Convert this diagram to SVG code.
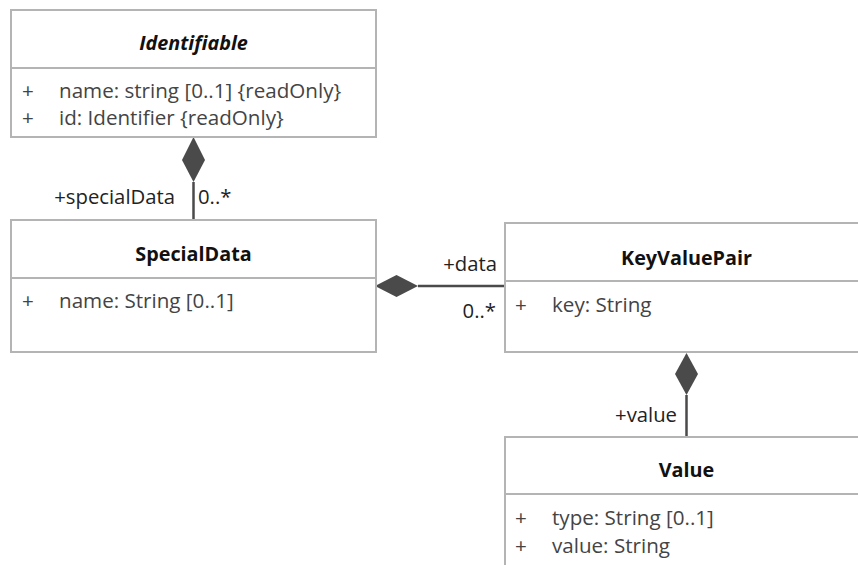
<svg xmlns="http://www.w3.org/2000/svg" width="858" height="565" viewBox="0 0 858 565">
<style>
.box{fill:#fff;stroke:#b4b4b4;stroke-width:2}
.div{stroke:#b4b4b4;stroke-width:2}
.t{font-family:"Open Sans","Liberation Sans",sans-serif;font-size:19.8px;fill:#111;font-weight:bold;text-anchor:middle}
.a{font-family:"Open Sans","Liberation Sans",sans-serif;font-size:20.6px;fill:#444}
.l{font-family:"Open Sans","Liberation Sans",sans-serif;font-size:20.3px;fill:#222}
.c{stroke:#4a4a4a;stroke-width:2.5;fill:none}
.d{fill:#4a4a4a}
</style>
<rect width="858" height="565" fill="#fff"/>
<g id="connectors">
<path class="d" d="M193.5,137 L205,160 L193.5,182 L182,160 Z"/>
<line class="c" x1="193.5" y1="182" x2="193.5" y2="220"/>
<path class="d" d="M375,286 L396.5,275 L418,286 L396.5,297 Z"/>
<line class="c" x1="418" y1="286" x2="505" y2="286"/>
<path class="d" d="M686.5,353 L698,374 L686.5,395 L675,374 Z"/>
<line class="c" x1="686.5" y1="395" x2="686.5" y2="437"/>
<text class="l" x="175" y="204" text-anchor="end">+specialData</text>
<text class="l" x="198" y="204">0..*</text>
<text class="l" x="497" y="271" text-anchor="end">+data</text>
<text class="l" x="496" y="318" text-anchor="end">0..*</text>
<text class="l" x="677" y="422" text-anchor="end">+value</text>
</g>
<g id="Identifiable">
<rect class="box" x="11" y="10" width="365" height="127"/>
<line class="div" x1="11" y1="68" x2="376" y2="68"/>
<text class="t" x="193.5" y="50" font-style="italic">Identifiable</text>
<text class="a" x="22" y="98">+</text>
<text class="a" x="59" y="98">name: string [0..1] {readOnly}</text>
<text class="a" x="22" y="125">+</text>
<text class="a" x="59" y="125">id: Identifier {readOnly}</text>
</g>
<g id="SpecialData">
<rect class="box" x="11" y="220" width="365" height="132"/>
<line class="div" x1="11" y1="278" x2="376" y2="278"/>
<text class="t" x="193.5" y="261">SpecialData</text>
<text class="a" x="22" y="308">+</text>
<text class="a" x="59" y="308">name: String [0..1]</text>
</g>
<g id="KeyValuePair">
<rect class="box" x="505" y="223" width="365" height="129"/>
<line class="div" x1="505" y1="281" x2="870" y2="281"/>
<text class="t" x="686.5" y="265">KeyValuePair</text>
<text class="a" x="515" y="312">+</text>
<text class="a" x="552" y="312">key: String</text>
</g>
<g id="Value">
<rect class="box" x="505" y="437" width="365" height="140"/>
<line class="div" x1="505" y1="494" x2="870" y2="494"/>
<text class="t" x="686.5" y="477">Value</text>
<text class="a" x="515" y="525">+</text>
<text class="a" x="552" y="525">type: String [0..1]</text>
<text class="a" x="515" y="553">+</text>
<text class="a" x="552" y="553">value: String</text>
</g>
</svg>
